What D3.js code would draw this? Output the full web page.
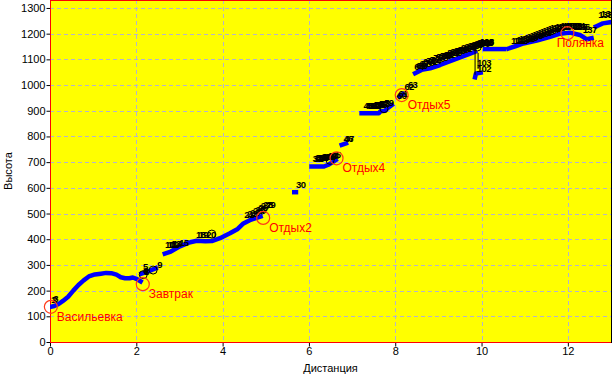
<!DOCTYPE html>
<html><head><meta charset="utf-8">
<script src="https://cdn.jsdelivr.net/npm/d3@7"></script>
<style>
html,body{margin:0;padding:0;background:#fff;}
svg{display:block;font-family:Arial,"Liberation Sans",sans-serif;}
</style></head>
<body><svg id="chart" width="612" height="376"></svg>
<script>
// ---------- DATA ----------
const xTicks = [0, 2, 4, 6, 8, 10, 12];
const yTicks = [0, 100, 200, 300, 400, 500, 600, 700, 800, 900, 1000, 1100, 1200, 1300];
const xTitle = "Дистанция";
const yTitle = "Высота";

// elevation profile, as separate track pieces [distance, height]
const profile1 = [[0.00,136],[0.10,140],[0.20,148],[0.30,160],[0.42,176],[0.54,200],[0.66,222],[0.78,240],[0.90,255],[1.04,263],[1.18,266],[1.30,269],[1.42,268],[1.54,262],[1.64,252],[1.74,248],[1.84,248],[1.92,251],[2.00,246],[2.10,236]];
const profile2 = [[2.12,266],[2.22,272],[2.32,278],[2.45,287]];
const profile3 = [[2.66,344],[2.80,352],[3.01,372],[3.20,386],[3.40,394],[3.60,392],[3.75,393],[3.94,404],[4.17,423],[4.35,440],[4.47,460],[4.63,474],[4.75,481],[4.88,488]];
const profile4 = [[5.66,583],[5.70,583]];
const profile5 = [[6.06,683],[6.35,683],[6.45,690],[6.55,700],[6.62,708]];
const profile6 = [[6.76,767],[6.86,773]];
const profile7 = [[7.22,890],[7.62,890],[7.66,898],[7.76,900],[7.84,912],[7.92,922]];
const profile8 = [[8.10,955],[8.18,965]];
const profile9 = [[8.46,1046],[8.61,1059],[8.81,1065],[9.04,1078],[9.35,1098],[9.66,1117],[9.85,1130]];
const profile10 = [[9.85,1030],[9.87,1045],[9.98,1048]];
const profile11 = [[10.08,1140],[10.52,1140]];
const profile12 = [[10.62,1142],[10.80,1152],[10.97,1162],[11.28,1173],[11.59,1188],[11.82,1200],[12.05,1204],[12.28,1195],[12.44,1178],[12.55,1182]];
const profile13 = [[12.65,1228],[12.81,1240],[13.00,1245]];
const profiles = [profile1,profile2,profile3,profile4,profile5,profile6,profile7,profile8,profile9,profile10,profile11,profile12,profile13];

// numbered waypoints [label, distance, height]
const waypoints = [
 ["1",0.00,140],["2",0.03,141],["3",0.05,143],
 ["5",2.13,268],["6",2.14,252],["7",2.15,250],["8",2.16,248],["9",2.46,276],
 ["10",2.64,354],["11",2.70,356],["12",2.74,356],["13",2.78,358],["14",2.82,358],["15",2.97,362],
 ["18",3.36,392],["19",3.42,392],["20",3.60,392],
 ["21",4.48,470],["22",4.55,474],["23",4.62,480],["24",4.68,486],["25",4.74,492],["26",4.80,498],["27",4.86,505],["28",4.92,508],["29",4.98,510],
 ["30",5.68,586],
 ["31",6.06,690],["32",6.09,690],["33",6.12,691],["34",6.15,691],["35",6.18,692],["36",6.21,693],["37",6.24,694],["38",6.27,695],["39",6.30,696],["40",6.33,697],["41",6.36,698],["42",6.39,700],["43",6.42,701],["44",6.45,702],["45",6.49,704],
 ["46",6.78,767],["47",6.80,768],
 ["48",7.24,895],["49",7.28,895],["50",7.32,896],["51",7.36,896],["52",7.40,897],["53",7.44,897],["54",7.48,898],["55",7.52,899],["56",7.56,900],["57",7.60,901],["58",7.64,903],["59",7.72,905],
 ["60",8.02,935],["61",8.05,940],["62",8.19,969],["63",8.27,975],
 ["64",8.42,1045],["65",8.46,1050],["66",8.50,1052],["67",8.54,1058],["68",8.58,1060],["69",8.62,1066],["70",8.66,1064],["71",8.70,1070],["72",8.74,1068],["73",8.78,1075],
 ["74",8.82,1072],["75",8.86,1080],["76",8.90,1078],["77",8.94,1085],["78",8.98,1082],["79",9.02,1090],["80",9.06,1088],["81",9.10,1095],["82",9.14,1092],["83",9.18,1100],
 ["84",9.22,1098],["85",9.26,1105],["86",9.30,1103],["87",9.34,1110],["88",9.38,1108],["89",9.42,1115],["90",9.46,1113],["91",9.50,1120],["92",9.54,1118],["93",9.58,1125],
 ["94",9.62,1122],["95",9.66,1130],["96",9.70,1128],["97",9.74,1134],["98",9.78,1132],["99",9.81,1138],["100",9.84,1136],["101",9.86,1140],
 ["102",9.87,1039],["103",9.87,1063],
 ["104",9.90,1140],["106",9.92,1142],["108",9.93,1143],["110",9.94,1144],
 ["111",10.66,1148],["112",10.72,1150],["113",10.78,1152],["114",10.84,1154],["115",10.90,1156],["116",10.96,1160],["117",11.02,1163],["118",11.08,1166],["119",11.14,1170],["120",11.20,1174],
 ["121",11.26,1178],["122",11.32,1182],["123",11.38,1186],["124",11.44,1190],["125",11.50,1194],["126",11.56,1198],["127",11.62,1200],["128",11.68,1202],["129",11.74,1204],["130",11.80,1205],
 ["131",11.86,1206],["132",11.92,1206],["133",11.98,1205],["134",12.04,1205],["135",12.10,1204],["136",12.16,1203],["137",12.32,1190],
 ["138",12.68,1250],["139",12.74,1252]
];
// small black rings at some waypoints [distance, height]
const rings = [[2.16,262],[2.39,280],[3.75,420],[4.92,514],[6.49,707],[7.74,908],[9.90,1148]];
// leader lines between waypoints
const leaders = [[[9.85,1146],[9.85,1040]],[[9.92,1063],[9.92,1125]]];

// named stops [name, distance, height]
const stops = [
 ["Васильевка",0.02,137],
 ["Завтрак",2.15,225],
 ["Отдых2",4.94,483],
 ["Отдых4",6.64,715],
 ["Отдых5",8.15,961],
 ["Полянка",11.99,1202]
];

// ---------- CHART ----------
const svg = d3.select("#chart");
const L = 50, R = 611, T = 0, B = 342;
const x = d3.scaleLinear().domain([0, 13]).range([L, R]);
const y = d3.scaleLinear().domain([0, 1331]).range([B, T]);

svg.append("defs").append("clipPath").attr("id","plotclip")
  .append("rect").attr("x",L).attr("y",T).attr("width",R-L).attr("height",B-T);

svg.append("rect").attr("x",L).attr("y",T).attr("width",R-L).attr("height",B-T).attr("fill","#ffff00");

// grid
const grid = svg.append("g").attr("stroke","#b4b4cc").attr("stroke-width",1).attr("stroke-dasharray","4,3");
grid.selectAll("line.h").data(yTicks.filter(v=>v>0)).join("line")
  .attr("x1",L).attr("x2",R).attr("y1",d=>Math.round(y(d))+0.5).attr("y2",d=>Math.round(y(d))+0.5);
grid.selectAll("line.v").data(xTicks.filter(v=>v>0)).join("line")
  .attr("y1",T).attr("y2",B).attr("x1",d=>Math.round(x(d))+0.5).attr("x2",d=>Math.round(x(d))+0.5);

// axes
const yAxis = d3.axisLeft(y).tickValues(yTicks).tickSize(4).tickPadding(1).tickFormat(d3.format("d"));
const gy = svg.append("g").attr("transform",`translate(${L+0.5},0)`).call(yAxis);
gy.select(".domain").remove();
gy.selectAll("text").attr("font-size",11).attr("font-family","Arial, 'Liberation Sans', sans-serif").attr("fill","#000");
gy.selectAll("line").attr("stroke","#000");

const xAxis = d3.axisBottom(x).tickValues(xTicks).tickSize(4).tickPadding(1).tickFormat(d3.format("d"));
const gx = svg.append("g").attr("transform",`translate(0,${B+0.5})`).call(xAxis);
gx.select(".domain").remove();
gx.selectAll("text").attr("font-size",11).attr("font-family","Arial, 'Liberation Sans', sans-serif").attr("fill","#000");
gx.selectAll("line").attr("stroke","#000");

// frame
svg.append("line").attr("x1",L).attr("x2",R).attr("y1",T+0.5).attr("y2",T+0.5).attr("stroke","#ff0000");
svg.append("line").attr("x1",L).attr("x2",R+1).attr("y1",B+0.5).attr("y2",B+0.5).attr("stroke","#ff0000");
svg.append("line").attr("x1",L+0.5).attr("x2",L+0.5).attr("y1",T).attr("y2",B+1).attr("stroke","#ff0000");
svg.append("line").attr("x1",R+0.5).attr("x2",R+0.5).attr("y1",T).attr("y2",B+1).attr("stroke","#000000");

// titles
svg.append("text").attr("x",(L+R)/2).attr("y",372).attr("text-anchor","middle")
  .attr("font-size",11).text(xTitle);
svg.append("text").attr("transform",`translate(12,${(T+B)/2}) rotate(-90)`).attr("text-anchor","middle")
  .attr("font-size",11).text(yTitle);

const plot = svg.append("g").attr("clip-path","url(#plotclip)");

// profile
const line = d3.line().x(d=>x(d[0])).y(d=>y(d[1]));
plot.selectAll("path.prof").data(profiles).join("path").attr("class","prof")
  .attr("d",line).attr("fill","none").attr("stroke","#0000ff")
  .attr("stroke-width",4.5).attr("stroke-linecap","square").attr("stroke-linejoin","round");

// leaders
plot.selectAll("path.lead").data(leaders).join("path").attr("class","lead")
  .attr("d",line).attr("fill","none").attr("stroke","#000").attr("stroke-width",1);

// rings
plot.selectAll("circle.ring").data(rings).join("circle").attr("class","ring")
  .attr("cx",d=>x(d[0])).attr("cy",d=>y(d[1])).attr("r",4)
  .attr("fill","none").attr("stroke","#000").attr("stroke-width",1);

// waypoint numbers
plot.selectAll("text.wp").data(waypoints).join("text").attr("class","wp")
  .attr("x",d=>x(d[1])+1).attr("y",d=>y(d[2])-3)
  .attr("font-size",9.5).attr("font-weight","bold").attr("letter-spacing","-0.6")
  .attr("fill","#000").text(d=>d[0]);

// named stops
const sg = svg.append("g");
sg.selectAll("circle").data(stops).join("circle")
  .attr("cx",d=>x(d[1])).attr("cy",d=>y(d[2])).attr("r",6.5)
  .attr("fill","none").attr("stroke","#ff3a1a").attr("stroke-width",1.2);
sg.selectAll("text").data(stops).join("text")
  .attr("y",d=>y(d[2])+10).attr("dy","0.35em")
  .attr("font-size",12).attr("fill","#ff0000").text(d=>d[0])
  .each(function(d){
    const w = this.getComputedTextLength();
    const cx = x(d[1]);
    d3.select(this).attr("x", Math.min(cx+6, R-7-w));
  });
</script>
</body></html>
